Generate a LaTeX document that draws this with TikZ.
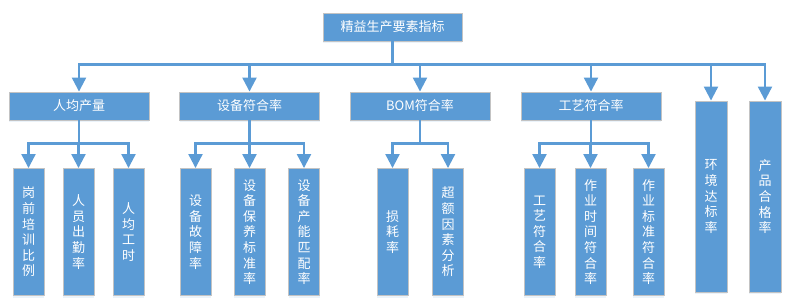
\documentclass[tikz,border=0pt]{standalone}
\usepackage{fontspec}
\setmainfont{Noto Sans CJK SC}
\usetikzlibrary{arrows.meta,shadows}
\definecolor{boxblue}{HTML}{5B9BD5}
\definecolor{boxedge}{HTML}{C3C3C3}
\definecolor{lineblue}{HTML}{5B9BD5}
\tikzset{
  box/.style={draw=boxedge, line width=0.9pt, fill=boxblue, text=white,
    inner sep=0pt, font=\fontsize{13}{15.6}\selectfont, align=center,
    drop shadow={opacity=0.12, shadow xshift=0pt, shadow yshift=-2pt, fill=boxblue}},
  hbox/.style={box, minimum width=140pt, minimum height=28pt},
  vbox/.style={box, minimum width=31pt, minimum height=127pt},
  tbox/.style={box, minimum width=32pt, minimum height=191pt},
  link/.style={draw=lineblue, line width=2.2pt,
    -{Triangle[width=14pt,length=14pt]}},
}
\begin{document}
\begin{tikzpicture}[x=1pt,y=-1pt]
\useasboundingbox (0,0) rectangle (796,305);
% top
\node[hbox, minimum width=139pt] (top) at (392.5,27) {精益生产要素指标};
% level 2
\node[hbox] (p1) at (79,106) {人均产量};
\node[hbox] (p2) at (249.5,106) {设备符合率};
\node[hbox] (p3) at (420,106) {BOM符合率};
\node[hbox] (p4) at (591,106) {工艺符合率};
\node[tbox] (p5) at (711,196.5) {环\\境\\达\\标\\率};
\node[tbox] (p6) at (765,196.5) {产\\品\\合\\格\\率};
% level 3
\node[vbox] (c11) at (28.5,232) {岗\\前\\培\\训\\比\\例};
\node[vbox] (c12) at (78.5,232) {人\\员\\出\\勤\\率};
\node[vbox] (c13) at (128.5,232) {人\\均\\工\\时};
\node[vbox] (c21) at (195.5,232) {设\\备\\故\\障\\率};
\node[vbox] (c22) at (249.5,232) {设\\备\\保\\养\\标\\准\\率};
\node[vbox] (c23) at (304,232) {设\\备\\产\\能\\匹\\配\\率};
\node[vbox] (c31) at (392.5,232) {损\\耗\\率};
\node[vbox] (c32) at (448,232) {超\\额\\因\\素\\分\\析};
\node[vbox] (c41) at (539.5,232) {工\\艺\\符\\合\\率};
\node[vbox] (c42) at (590.5,232) {作\\业\\时\\间\\符\\合\\率};
\node[vbox] (c43) at (648.5,232) {作\\业\\标\\准\\符\\合\\率};
% connectors level 1 -> 2
\foreach \p in {p1,p2,p3,p4,p5,p6}
  \draw[link] (top.south) -- ++(0,23) -| (\p.north);
% connectors level 2 -> 3
\foreach \c in {c11,c12,c13}
  \draw[link] (p1.south) -- ++(0,23) -| (\c.north);
\foreach \c in {c21,c22,c23}
  \draw[link] (p2.south) -- ++(0,23) -| (\c.north);
\foreach \c in {c31,c32}
  \draw[link] (p3.south) -- ++(0,23) -| (\c.north);
\foreach \c in {c41,c42,c43}
  \draw[link] (p4.south) -- ++(0,23) -| (\c.north);
\end{tikzpicture}
\end{document}
